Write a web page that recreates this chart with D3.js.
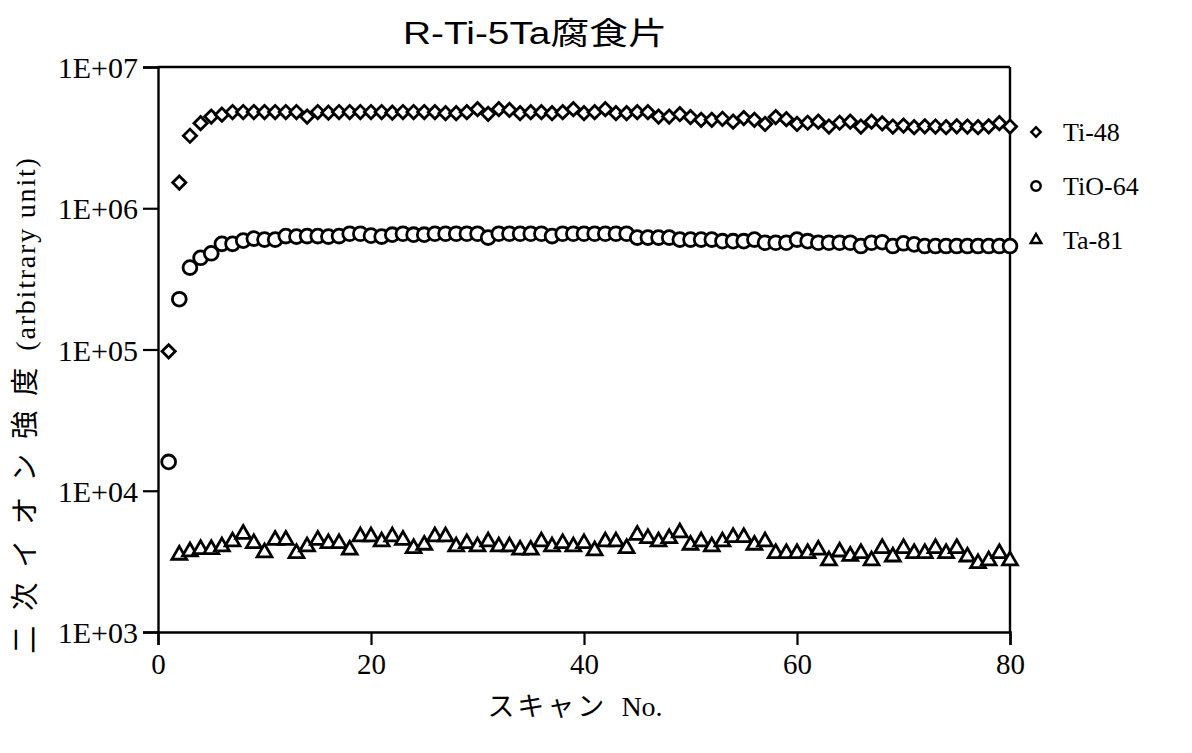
<!DOCTYPE html>
<html>
<head>
<meta charset="utf-8">
<script src="https://cdn.jsdelivr.net/npm/d3@7"></script>
<style>
  html, body { margin: 0; padding: 0; background: #fff; }
  svg { display: block; }
</style>
</head>
<body>
<svg id="chart" width="1192" height="753"></svg>
<script>
// Scan numbers and secondary-ion intensities (arbitrary unit)
const scans = d3.range(1, 81);

const ti48 = [
  97000, 1520000, 3260000, 4000000, 4460000, 4600000, 4800000, 4800000, 4800000, 4800000,
  4800000, 4800000, 4800000, 4460000, 4800000, 4750000, 4800000, 4800000, 4800000, 4800000,
  4800000, 4750000, 4800000, 4800000, 4800000, 4790000, 4710000, 4710000, 4790000, 5030000,
  4660000, 5030000, 4970000, 4710000, 4790000, 4790000, 4710000, 4790000, 5030000, 4710000,
  4790000, 5030000, 4710000, 4710000, 4790000, 4790000, 4460000, 4460000, 4630000, 4420000,
  4230000, 4230000, 4300000, 4100000, 4350000, 4230000, 3950000, 4420000, 4270000, 3950000,
  4030000, 4100000, 3790000, 4030000, 4100000, 3790000, 4100000, 3990000, 3790000, 3850000,
  3750000, 3800000, 3790000, 3750000, 3800000, 3790000, 3750000, 3800000, 4000000, 3790000
];

const tio64 = [
  16000, 227000, 380000, 446000, 480000, 560000, 560000, 590000, 610000, 600000,
  600000, 635000, 630000, 635000, 635000, 630000, 635000, 660000, 660000, 640000,
  630000, 650000, 660000, 650000, 650000, 660000, 660000, 660000, 660000, 660000,
  620000, 660000, 660000, 660000, 660000, 660000, 635000, 660000, 660000, 660000,
  660000, 660000, 660000, 660000, 620000, 620000, 620000, 620000, 600000, 600000,
  600000, 600000, 585000, 585000, 585000, 600000, 570000, 570000, 570000, 600000,
  585000, 570000, 570000, 570000, 570000, 540000, 570000, 575000, 540000, 565000,
  555000, 540000, 540000, 540000, 540000, 540000, 540000, 540000, 540000, 540000
];

const ta81 = [
  null, 3510, 3710, 3850, 3850, 4020, 4360, 4940, 4240, 3650,
  4480, 4480, 3610, 4020, 4480, 4240, 4240, 3810, 4730, 4730,
  4360, 4730, 4480, 3910, 4130, 4730, 4730, 4020, 4240, 4020,
  4360, 4020, 4020, 3810, 3810, 4360, 4020, 4240, 4020, 4240,
  3770, 4360, 4360, 3910, 4860, 4600, 4360, 4600, 5050, 4130,
  4360, 4020, 4360, 4680, 4680, 4130, 4360, 3610, 3610, 3610,
  3610, 3810, 3200, 3700, 3450, 3610, 3200, 3910, 3410, 3910,
  3610, 3610, 3910, 3610, 3910, 3410, 3060, 3200, 3610, 3200
];

const seriesNames = ["Ti-48", "TiO-64", "Ta-81"];
const xTicks = [0, 20, 40, 60, 80];
const yTicks = [1e3, 1e4, 1e5, 1e6, 1e7];
const yTickLabels = ["1E+03", "1E+04", "1E+05", "1E+06", "1E+07"];

const titleText = "R-Ti-5Ta腐食片";
const xLabelJa = "スキャン";
const xLabelEn = "No.";
const yLabelJa = "二次イオン強度";
const yLabelEn = "(arbitrary  unit)";

// ---- layout ----
const svg = d3.select("#chart");
const plot = { left: 158, right: 1010, top: 67, bottom: 632 };

const x = d3.scaleLinear().domain([0, 80]).range([plot.left, plot.right]);
const y = d3.scaleLog().domain([1e3, 1e7]).range([plot.bottom, plot.top]);

const serif = "'Liberation Serif', 'Times New Roman', serif";
const cjk = "'Noto Sans CJK JP', sans-serif";

// title
svg.append("text")
  .attr("x", 535).attr("y", 44)
  .attr("text-anchor", "middle")
  .attr("font-family", "'Liberation Sans', Arial, 'Noto Sans CJK JP', sans-serif")
  .attr("font-size", 31)
  .attr("textLength", 264)
  .attr("lengthAdjust", "spacingAndGlyphs")
  .attr("fill", "#000")
  .text(titleText);

// axes
const yAxis = d3.axisLeft(y)
  .tickValues(yTicks)
  .tickFormat((d, i) => yTickLabels[i])
  .tickSize(15)
  .tickPadding(5);

const xAxis = d3.axisBottom(x)
  .tickValues(xTicks)
  .tickFormat(d3.format("d"))
  .tickSize(13)
  .tickPadding(8);

const gy = svg.append("g")
  .attr("transform", `translate(${plot.left},0)`)
  .call(yAxis);

const gx = svg.append("g")
  .attr("transform", `translate(0,${plot.bottom})`)
  .call(xAxis);

[gx, gy].forEach(g => {
  g.select(".domain").attr("stroke", "#000").attr("stroke-width", 2.4);
  g.selectAll(".tick line").attr("stroke", "#000").attr("stroke-width", 2.2);
  g.selectAll(".tick text")
    .attr("font-family", serif)
    .attr("fill", "#000");
});
gy.selectAll(".tick text").attr("font-size", 30).attr("dy", "0.35em");
gx.selectAll(".tick text").attr("font-size", 29);

// frame: top and right edges
svg.append("line")
  .attr("x1", x(0)).attr("x2", x(80))
  .attr("y1", y(1e7)).attr("y2", y(1e7))
  .attr("stroke", "#000").attr("stroke-width", 2.4);
svg.append("line")
  .attr("x1", x(80)).attr("x2", x(80))
  .attr("y1", y(1e7)).attr("y2", y(1e3))
  .attr("stroke", "#000").attr("stroke-width", 2.4);

// axis titles
const xt = svg.append("text")
  .attr("x", 575).attr("y", 716)
  .attr("text-anchor", "middle")
  .attr("fill", "#000");
xt.append("tspan").attr("font-family", cjk).attr("font-size", 27)
  .attr("letter-spacing", 3).text(xLabelJa);
xt.append("tspan").attr("font-family", serif).attr("font-size", 28).attr("dx", 14).text(xLabelEn);

const yt = svg.append("text")
  .attr("transform", "translate(35,405) rotate(-90)")
  .attr("text-anchor", "middle")
  .attr("fill", "#000");
yt.append("tspan").attr("font-family", cjk).attr("font-size", 28)
  .attr("letter-spacing", 15).text(yLabelJa);
yt.append("tspan").attr("font-family", serif).attr("font-size", 28)
  .attr("dx", 2).attr("letter-spacing", 1.8).text(yLabelEn);

// markers
const markerDefs = [
  { name: seriesNames[0], values: ti48, type: d3.symbolSquare, size: 88, legendSize: 44, rotate: 45 },
  { name: seriesNames[1], values: tio64, type: d3.symbolCircle, size: 150, legendSize: 70, rotate: 0 },
  { name: seriesNames[2], values: ta81, type: d3.symbolTriangle, size: 95, legendSize: 48, rotate: 0 }
];

const plotG = svg.append("g");
markerDefs.forEach(def => {
  const path = d3.symbol().type(def.type).size(def.size)();
  const pts = scans.map((s, i) => ({ s, v: def.values[i] })).filter(p => p.v != null);
  plotG.selectAll(null)
    .data(pts)
    .enter().append("path")
    .attr("d", path)
    .attr("transform", p => `translate(${x(p.s)},${y(p.v)}) rotate(${def.rotate})`)
    .attr("fill", "#fff")
    .attr("stroke", "#000")
    .attr("stroke-width", 2.8);
});

// legend
const legendY = [132, 186, 240];
const legend = svg.append("g");
markerDefs.forEach((def, i) => {
  const path = d3.symbol().type(def.type).size(def.legendSize)();
  legend.append("path")
    .attr("d", path)
    .attr("transform", `translate(1036,${legendY[i]}) rotate(${def.rotate})`)
    .attr("fill", "#fff")
    .attr("stroke", "#000")
    .attr("stroke-width", 2.4);
  legend.append("text")
    .attr("x", 1063).attr("y", legendY[i])
    .attr("dy", "0.35em")
    .attr("font-family", serif)
    .attr("font-size", 26)
    .attr("fill", "#000")
    .text(def.name);
});
</script>
</body>
</html>
